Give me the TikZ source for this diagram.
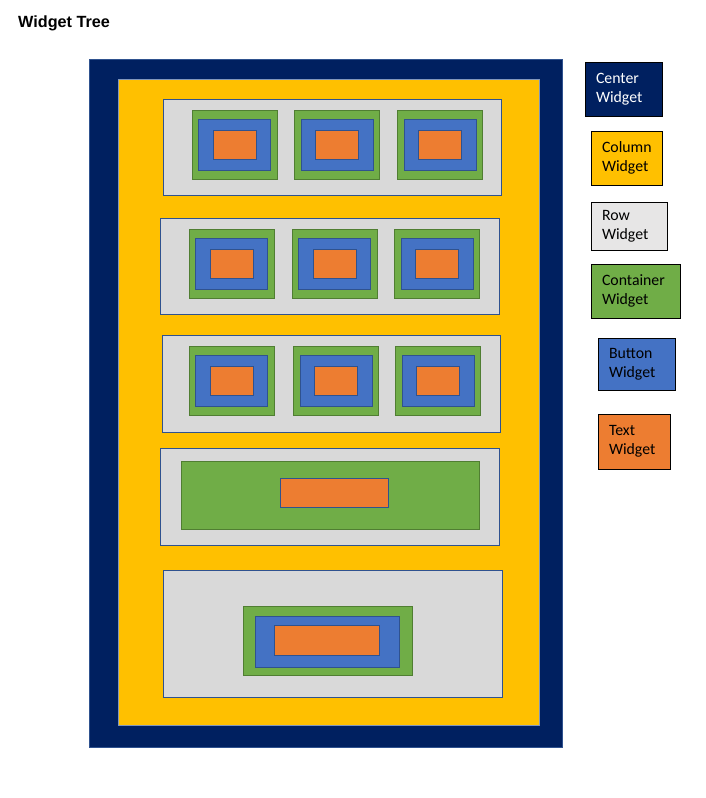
\documentclass[tikz,border=0pt]{standalone}
\usepackage{fontspec}
\newfontfamily\titlefont{Liberation Sans}
\newfontfamily\legfont{Carlito}
\usepackage{tikz}
\usetikzlibrary{positioning}
\definecolor{wnavy}{HTML}{002060}
\definecolor{wyellow}{HTML}{FFC000}
\definecolor{wgray}{HTML}{D9D9D9}
\definecolor{wlgray}{HTML}{E7E6E6}
\definecolor{wgreen}{HTML}{70AD47}
\definecolor{wdgreen}{HTML}{507E32}
\definecolor{wblue}{HTML}{4472C4}
\definecolor{worange}{HTML}{ED7D31}
\definecolor{wedge}{HTML}{2F528F}

\begin{document}
\begin{tikzpicture}[
  x=1pt, y=-1pt,
  box/.style={rectangle, inner sep=0pt, line width=0.9pt},
  centerbox/.style={box, fill=wnavy, draw=wedge},
  colbox/.style={box, fill=wyellow, draw=wedge!60},
  rowbox/.style={box, fill=wgray, draw=wedge},
  contbox/.style={box, fill=wgreen, draw=wdgreen},
  btnbox/.style={box, fill=wblue, draw=wedge},
  txtbox/.style={box, fill=worange, draw=wedge},
  cellg/.style={contbox, minimum width=85pt, minimum height=69pt},
  cellb/.style={btnbox, minimum width=72pt, minimum height=51pt},
  cellt/.style={txtbox, minimum width=43pt, minimum height=29pt},
  legbox/.style={draw=black, line width=0.8pt, inner xsep=11pt, inner ysep=0pt, align=left, font=\legfont\fontsize{15.8}{19}\selectfont},
  title/.style={inner sep=0pt, font=\titlefont\bfseries\fontsize{16.2}{19}\selectfont},
]
\useasboundingbox (0,0) rectangle (706,798);

% Titulo
\node[title, anchor=base west] (titulo) at (18,27) {Widget Tree};

% Center y Column
\node[centerbox, minimum width=473pt, minimum height=688pt] (center) at (325.5,403) {};
\node[colbox, minimum width=421pt, minimum height=646pt] (column) at (328.5,402) {};

% Filas
\node[rowbox, minimum width=338pt, minimum height=96pt] (row1) at (332,147) {};
\node[rowbox, minimum width=339pt, minimum height=96pt] (row2) at (329.5,266) {};
\node[rowbox, minimum width=338pt, minimum height=97pt] (row3) at (331,383.5) {};
\node[rowbox, minimum width=339pt, minimum height=97pt] (row4) at (329.5,496.5) {};
\node[rowbox, minimum width=339pt, minimum height=127pt] (row5) at (332.5,633.5) {};

% Botones de las filas 1-3
\foreach \r/\y/\xa/\xb/\xc in {1/145/234.5/337/440, 2/263.5/231.5/334.5/437, 3/380.5/231.5/336/438} {
  \foreach \c/\x in {1/\xa, 2/\xb, 3/\xc} {
    \node[cellg] (g\r\c) at (\x,\y) {};
    \node[cellb] (b\r\c) at (\x,\y) {};
    \node[cellt] (t\r\c) at (\x,\y) {};
  }
}

% Fila 4
\node[contbox, minimum width=298pt, minimum height=68pt] (g41) at (330,495) {};
\node[txtbox, minimum width=108pt, minimum height=29pt] (t41) at (334,492.5) {};

% Fila 5
\node[contbox, minimum width=169pt, minimum height=69pt] (g51) at (327.5,640.5) {};
\node[btnbox, minimum width=144pt, minimum height=51pt] (b51) at (327,641.5) {};
\node[txtbox, minimum width=105pt, minimum height=30pt] (t51) at (326.5,640) {};

% Leyenda
\node[legbox, fill=wnavy, text=white, minimum width=77pt, minimum height=54pt, text width=55pt] (lcenter) at (623.5,89) {Center\\Widget};
\node[legbox, fill=wyellow, minimum width=71pt, minimum height=54pt, text width=49pt] (lcolumn) at (626.5,158) {Column\\Widget};
\node[legbox, fill=wlgray, minimum width=76pt, minimum height=48pt, text width=54pt] (lrow) at (629,226) {Row\\Widget};
\node[legbox, fill=wgreen, minimum width=89pt, minimum height=54pt, text width=67pt] (lcont) at (635.5,291) {Container\\Widget};
\node[legbox, fill=wblue, minimum width=77pt, minimum height=52pt, text width=55pt] (lbutton) at (636.5,364) {Button\\Widget};
\node[legbox, fill=worange, minimum width=72pt, minimum height=55pt, text width=50pt] (ltext) at (634,441.5) {Text\\Widget};

\end{tikzpicture}
\end{document}
